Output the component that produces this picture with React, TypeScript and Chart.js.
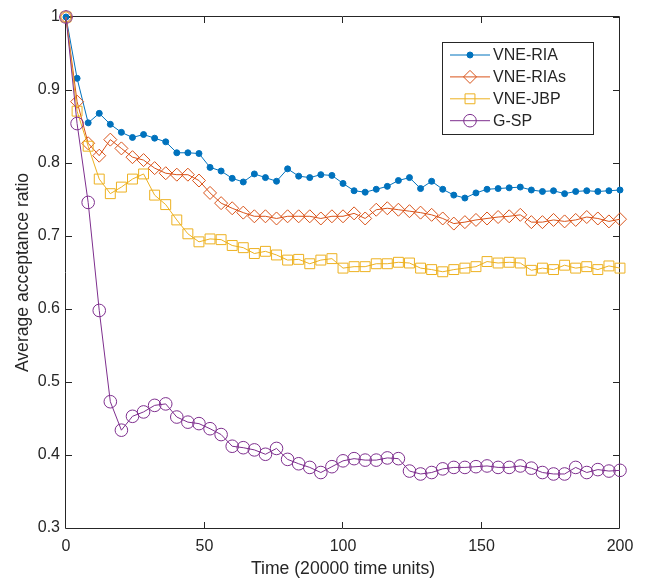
import React, { useEffect, useRef } from 'react';
import { Chart, registerables } from 'chart.js';

Chart.register(...registerables);

const timeSteps = [
  0, 4, 8, 12, 16, 20, 24, 28, 32, 36, 40, 44, 48, 52, 56, 60, 64, 68, 72, 76,
  80, 84, 88, 92, 96, 100, 104, 108, 112, 116, 120, 124, 128, 132, 136, 140,
  144, 148, 152, 156, 160, 164, 168, 172, 176, 180, 184, 188, 192, 196, 200,
];

const vneRia = [
  1.0, 0.916, 0.855, 0.868, 0.853, 0.842, 0.835, 0.839, 0.834, 0.829,
  0.814, 0.814, 0.813, 0.794, 0.789, 0.779, 0.774, 0.785, 0.78, 0.775,
  0.792, 0.782, 0.78, 0.784, 0.783, 0.772, 0.762, 0.76, 0.764, 0.768,
  0.776, 0.78, 0.765, 0.775, 0.764, 0.756, 0.752, 0.759, 0.764, 0.765,
  0.766, 0.767, 0.763, 0.761, 0.762, 0.758, 0.761, 0.762, 0.761, 0.762,
  0.763,
];

const vneRias = [
  1.0, 0.884, 0.827, 0.81, 0.832, 0.82, 0.808, 0.804, 0.793, 0.786,
  0.784, 0.784, 0.776, 0.759, 0.745, 0.738, 0.732, 0.727, 0.727, 0.724,
  0.727, 0.727, 0.727, 0.724, 0.727, 0.727, 0.731, 0.724, 0.736, 0.738,
  0.736, 0.734, 0.732, 0.729, 0.724, 0.717, 0.719, 0.722, 0.724, 0.726,
  0.727, 0.729, 0.719, 0.719, 0.722, 0.72, 0.722, 0.726, 0.724, 0.72,
  0.723,
];

const vneJbp = [
  1.0, 0.871, 0.823, 0.778, 0.758, 0.767, 0.778, 0.785, 0.756, 0.743,
  0.722, 0.703, 0.692, 0.696, 0.695, 0.687, 0.684, 0.676, 0.679, 0.674,
  0.667, 0.668, 0.662, 0.667, 0.669, 0.656, 0.658, 0.658, 0.662, 0.662,
  0.664, 0.663, 0.656, 0.654, 0.651, 0.654, 0.656, 0.658, 0.665, 0.663,
  0.664, 0.663, 0.653, 0.656, 0.654, 0.66, 0.656, 0.658, 0.654, 0.659,
  0.656,
];

const gSp = [
  1.0, 0.854, 0.746, 0.598, 0.473, 0.434, 0.453, 0.459, 0.468, 0.47,
  0.452, 0.445, 0.443, 0.436, 0.428, 0.412, 0.41, 0.407, 0.401, 0.409,
  0.394, 0.388, 0.383, 0.376, 0.384, 0.392, 0.395, 0.393, 0.393, 0.396,
  0.395, 0.378, 0.374, 0.376, 0.381, 0.383, 0.383, 0.384, 0.385, 0.383,
  0.383, 0.385, 0.382, 0.376, 0.374, 0.374, 0.383, 0.376, 0.38, 0.378,
  0.379,
];

const seriesNames = ['VNE-RIA', 'VNE-RIAs', 'VNE-JBP', 'G-SP'];
const seriesColors = ['#0072BD', '#D95319', '#EDB120', '#7E2F8E'];
const seriesMarkers = ['circle', 'rectRot', 'rect', 'circle'];
const seriesRadii = [3, 6.5, 7, 6.3];
const seriesFilled = [true, false, false, false];

const xTitle = 'Time (20000 time units)';
const yTitle = 'Average acceptance ratio';

const FONT = "'Liberation Sans', Arial, sans-serif";
const TEXT = '#262626';

function drawMarker(ctx: CanvasRenderingContext2D, style: string, x: number, y: number, r: number, color: string, filled: boolean) {
  ctx.beginPath();
  if (style === 'circle') {
    ctx.arc(x, y, r, 0, Math.PI * 2);
  } else if (style === 'rectRot') {
    ctx.moveTo(x, y - r);
    ctx.lineTo(x + r, y);
    ctx.lineTo(x, y + r);
    ctx.lineTo(x - r, y);
    ctx.closePath();
  } else {
    const s = r * Math.SQRT1_2;
    ctx.rect(x - s, y - s, 2 * s, 2 * s);
  }
  ctx.strokeStyle = color;
  ctx.lineWidth = 1;
  if (filled) {
    ctx.fillStyle = color;
    ctx.fill();
  }
  ctx.stroke();
}

const framePlugin = {
  id: 'frameTicks',
  beforeDatasetsDraw(chart: any) {
    const { ctx, chartArea, scales } = chart;
    const { left, right, top, bottom } = chartArea;
    ctx.save();
    ctx.strokeStyle = TEXT;
    ctx.lineWidth = 1;
    ctx.beginPath();
    ctx.rect(left - 0.5, top - 0.5, right - left, bottom - top + 1);
    ctx.stroke();
    const tl = 6;
    ctx.beginPath();
    scales.y.ticks.forEach((t: any) => {
      const py = Math.round(scales.y.getPixelForValue(t.value)) + 0.5;
      ctx.moveTo(left, py);
      ctx.lineTo(left + tl, py);
      ctx.moveTo(right - 1, py);
      ctx.lineTo(right - 1 - tl, py);
    });
    scales.x.ticks.forEach((t: any) => {
      const px = Math.round(scales.x.getPixelForValue(t.value)) - 0.5;
      ctx.moveTo(px, bottom);
      ctx.lineTo(px, bottom - tl);
      ctx.moveTo(px, top);
      ctx.lineTo(px, top + tl);
    });
    ctx.stroke();
    ctx.restore();
  },
};

const legendPlugin = {
  id: 'customLegend',
  afterDraw(chart: any) {
    const { ctx } = chart;
    ctx.save();
    const bx = 442.5, by = 42.5, bw = 151, bh = 92;
    ctx.fillStyle = '#ffffff';
    ctx.fillRect(bx, by, bw, bh);
    ctx.strokeStyle = TEXT;
    ctx.lineWidth = 1;
    ctx.strokeRect(bx, by, bw, bh);
    seriesNames.forEach((name, i) => {
      const cy = 55 + i * 21.9;
      ctx.beginPath();
      ctx.strokeStyle = seriesColors[i];
      ctx.lineWidth = 1;
      ctx.moveTo(450, cy);
      ctx.lineTo(490, cy);
      ctx.stroke();
      drawMarker(ctx, seriesMarkers[i], 470, cy, seriesRadii[i], seriesColors[i], seriesFilled[i]);
      ctx.fillStyle = TEXT;
      ctx.font = `16px ${FONT}`;
      ctx.textAlign = 'left';
      ctx.textBaseline = 'middle';
      ctx.fillText(name, 493, cy + 1);
    });
    ctx.restore();
  },
};

export default function App() {
  const canvasRef = useRef<HTMLCanvasElement | null>(null);

  useEffect(() => {
    const canvas = canvasRef.current;
    if (!canvas) return;
    const seriesValues = [vneRia, vneRias, vneJbp, gSp];
    const datasets = seriesValues.map((vals, i) => ({
      label: seriesNames[i],
      data: timeSteps.map((t, j) => ({ x: t, y: vals[j] })),
      borderColor: seriesColors[i],
      backgroundColor: seriesColors[i],
      borderWidth: 1,
      pointStyle: seriesMarkers[i] as any,
      pointRadius: seriesRadii[i],
      pointBorderWidth: 1,
      pointBorderColor: seriesColors[i],
      pointBackgroundColor: seriesFilled[i] ? seriesColors[i] : 'rgba(0,0,0,0)',
      tension: 0,
      clip: false as any,
      order: 3 - i,
    }));

    const chart = new Chart(canvas, {
      type: 'line',
      data: { datasets },
      options: {
        animation: false,
        responsive: false,
        devicePixelRatio: 1,
        layout: { padding: { top: 17, right: 29, left: 0, bottom: 0 } },
        plugins: {
          legend: { display: false },
          tooltip: { enabled: false },
        },
        scales: {
          x: {
            type: 'linear',
            min: 0,
            max: 200,
            ticks: {
              stepSize: 50,
              color: TEXT,
              font: { family: FONT, size: 16 },
              padding: 9,
              maxRotation: 0,
            },
            grid: { display: false, drawTicks: false },
            border: { display: false },
            title: {
              display: true,
              text: xTitle,
              color: TEXT,
              font: { family: FONT, size: 17.6 },
              padding: { top: 0, bottom: 0 },
            },
            afterFit: (scale: any) => {
              scale.height = 52;
            },
          },
          y: {
            type: 'linear',
            min: 0.3,
            max: 1,
            ticks: {
              stepSize: 0.1,
              color: TEXT,
              font: { family: FONT, size: 16 },
              padding: 6,
              callback: (v: any) => String(Math.round(Number(v) * 10) / 10),
            },
            grid: { display: false, drawTicks: false },
            border: { display: false },
            title: {
              display: true,
              text: yTitle,
              color: TEXT,
              font: { family: FONT, size: 17.6 },
              padding: { top: 13, bottom: 0 },
            },
            afterFit: (scale: any) => {
              scale.width = 66;
            },
          },
        },
      },
      plugins: [framePlugin, legendPlugin],
    });

    return () => {
      chart.destroy();
    };
  }, []);

  return (
    <div style={{ position: 'absolute', left: 0, top: 0, width: 649, height: 580, background: '#ffffff' }}>
      <canvas ref={canvasRef} width={649} height={580} style={{ display: 'block', width: 649, height: 580 }} />
    </div>
  );
}
